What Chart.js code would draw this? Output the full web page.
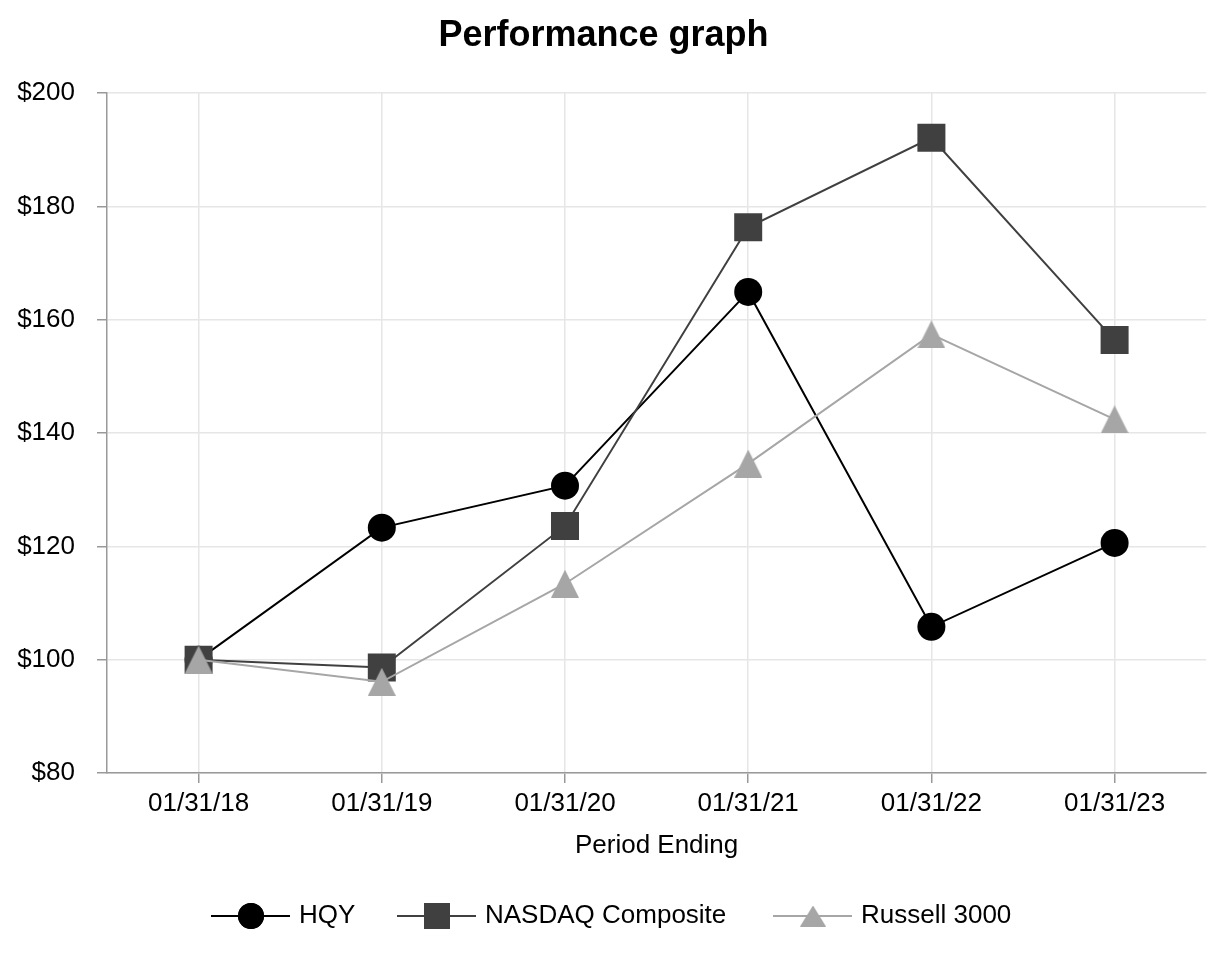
<!DOCTYPE html>
<html>
<head>
<meta charset="utf-8">
<script src="https://cdn.jsdelivr.net/npm/chart.js@4/dist/chart.umd.min.js"></script>
<style>
    html, body { margin: 0; padding: 0; background: #fff; }
    #wrap { width: 1226px; height: 960px; position: relative; }
</style>
</head>
<body>
<div id="wrap"><canvas id="perfChart"></canvas></div>
<script>
    const periodLabels = ['01/31/18', '01/31/19', '01/31/20', '01/31/21', '01/31/22', '01/31/23'];
    const hqyValues = [100.0, 123.3, 130.7, 164.9, 105.8, 120.6];
    const nasdaqValues = [100.0, 98.6, 123.6, 176.3, 192.1, 156.4];
    const russellValues = [100.0, 96.1, 113.4, 134.6, 157.4, 142.4];
    const yTicks = [80, 100, 120, 140, 160, 180, 200];

    const FONT = '"Liberation Sans", Arial, sans-serif';

    // triangle filling its whole box, so the box (not the centroid) sits on the value
    function triangleMarker(w, h, color) {
        const c = document.createElement('canvas');
        c.width = w;
        c.height = h;
        const g = c.getContext('2d');
        g.fillStyle = color;
        g.beginPath();
        g.moveTo(w / 2, 0);
        g.lineTo(w, h);
        g.lineTo(0, h);
        g.closePath();
        g.fill();
        return c;
    }

    const series = [
        { label: 'HQY', data: hqyValues, color: '#000000', style: 'circle', radius: 14, legendRadius: 13, order: 3 },
        { label: 'NASDAQ Composite', data: nasdaqValues, color: '#404040', style: 'rect', radius: 19.8, legendRadius: 18.4, order: 2 },
        { label: 'Russell 3000', data: russellValues, color: '#a6a6a6', style: triangleMarker(28, 28, '#a6a6a6'),
          legendStyle: triangleMarker(26, 21, '#a6a6a6'), radius: 14, legendRadius: 13, order: 1 }
    ];

    // legend: short line with the marker in the middle, drawn under the plot
    const legendPlugin = {
        id: 'lineLegend',
        afterDraw(chart) {
            const ctx = chart.ctx;
            const y = 916;
            const starts = [211, 397, 773];
            ctx.save();
            series.forEach((s, i) => {
                const x0 = starts[i];
                ctx.strokeStyle = s.color;
                ctx.lineWidth = 2;
                ctx.beginPath();
                ctx.moveTo(x0, y);
                ctx.lineTo(x0 + 79, y);
                ctx.stroke();
                ctx.fillStyle = s.color;
                Chart.helpers.drawPoint(ctx, {
                    pointStyle: s.legendStyle || s.style,
                    radius: s.legendRadius,
                    rotation: 0,
                    borderWidth: 0
                }, x0 + 40, y);
                ctx.fill();
                ctx.fillStyle = '#000';
                ctx.font = '26px ' + FONT;
                ctx.textBaseline = 'middle';
                ctx.fillText(s.label, x0 + 88, y);
            });
            ctx.restore();
        }
    };

    new Chart(document.getElementById('perfChart'), {
        type: 'line',
        data: {
            labels: periodLabels,
            datasets: series.map(s => ({
                label: s.label,
                data: s.data,
                borderColor: s.color,
                backgroundColor: s.color,
                borderWidth: 2,
                pointStyle: s.style,
                pointRadius: s.radius,
                pointHoverRadius: s.radius,
                pointBorderWidth: 0,
                tension: 0,
                order: s.order
            }))
        },
        options: {
            responsive: true,
            maintainAspectRatio: false,
            animation: false,
            layout: { padding: { left: 0, right: 19, top: 0, bottom: 99 } },
            plugins: {
                legend: { display: false },
                tooltip: { enabled: false },
                title: {
                    display: true,
                    text: 'Performance graph',
                    color: '#000',
                    font: { family: FONT, size: 36, weight: 'bold' },
                    padding: { top: 14, bottom: 35.8 }
                }
            },
            scales: {
                x: {
                    offset: true,
                    afterFit: scale => { scale.height = 88; },
                    grid: { color: '#e6e6e6', lineWidth: 1.5, offset: false, tickLength: 10, tickColor: '#999' },
                    border: { color: '#999', width: 1.5 },
                    ticks: { color: '#000', font: { family: FONT, size: 26 }, padding: 5, maxRotation: 0 },
                    title: { display: true, text: 'Period Ending', color: '#000', font: { family: FONT, size: 26 }, padding: 0 }
                },
                y: {
                    min: 80,
                    max: 200,
                    afterBuildTicks: scale => { scale.ticks = yTicks.map(v => ({ value: v })); },
                    afterFit: scale => { scale.width = 107; },
                    grid: { color: '#e6e6e6', lineWidth: 1.5, tickLength: 10, tickColor: '#999' },
                    border: { color: '#999', width: 1.5 },
                    ticks: {
                        color: '#000',
                        font: { family: FONT, size: 26 },
                        padding: 22,
                        callback: v => '$' + v
                    }
                }
            }
        },
        plugins: [legendPlugin]
    });
</script>
</body>
</html>
